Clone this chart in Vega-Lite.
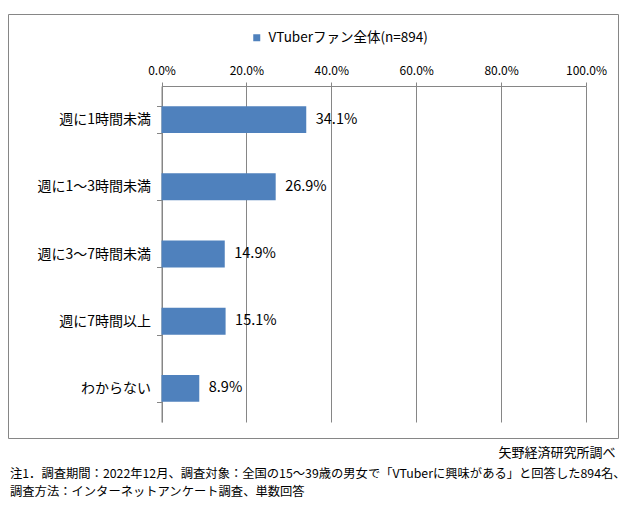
{
  "$schema": "https://vega.github.io/schema/vega-lite/v6.json",
  "width": 610,
  "height": 424,
  "padding": {"left": 8, "top": 7, "right": 4, "bottom": 5},
  "background": "white",
  "config": {
    "font": "Noto Sans CJK JP",
    "view": {"stroke": "#868686", "strokeWidth": 1}
  },
  "title": {
    "text": [
      "注1．調査期間：2022年12月、調査対象：全国の15～39歳の男女で「VTuberに興味がある」と回答した894名、",
      "調査方法：インターネットアンケート調査、単数回答"
    ],
    "orient": "bottom",
    "anchor": "start",
    "frame": "group",
    "dx": 2,
    "offset": 9,
    "fontSize": 12.3,
    "fontWeight": "normal",
    "color": "#000000",
    "lineHeight": 18
  },
  "data": {
    "values": [
      {"cat": "週に1時間未満", "value": 0.341, "series": "VTuberファン全体(n=894)"},
      {"cat": "週に1～3時間未満", "value": 0.269, "series": "VTuberファン全体(n=894)"},
      {"cat": "週に3～7時間未満", "value": 0.149, "series": "VTuberファン全体(n=894)"},
      {"cat": "週に7時間以上", "value": 0.151, "series": "VTuberファン全体(n=894)"},
      {"cat": "わからない", "value": 0.089, "series": "VTuberファン全体(n=894)"}
    ]
  },
  "encoding": {
    "y": {
      "field": "cat",
      "type": "nominal",
      "sort": null,
      "scale": {"range": [72, 408], "paddingInner": 0.6, "paddingOuter": 0.3},
      "axis": {
        "orient": "left",
        "offset": -153.5,
        "title": null,
        "grid": false,
        "tickBand": "extent",
        "domainColor": "#868686",
        "tickColor": "#868686",
        "tickSize": 5,
        "labelFontSize": 14,
        "labelColor": "#000000",
        "labelPadding": 6
      }
    }
  },
  "layer": [
    {
      "mark": {"type": "bar"},
      "encoding": {
        "x": {
          "field": "value",
          "type": "quantitative",
          "scale": {"domain": [0, 1], "range": [153.5, 578], "nice": false},
          "axis": {
            "orient": "top",
            "offset": -72,
            "title": null,
            "values": [0, 0.2, 0.4, 0.6, 0.8, 1],
            "format": ".1%",
            "grid": true,
            "gridColor": "#868686",
            "domainColor": "#868686",
            "tickColor": "#868686",
            "tickSize": 4,
            "labelFontSize": 12,
            "labelColor": "#000000",
            "labelPadding": 5,
            "labelFlush": false
          }
        },
        "color": {
          "field": "series",
          "type": "nominal",
          "scale": {"range": ["#4F81BD"]},
          "legend": {
            "orient": "none",
            "legendX": 242,
            "legendY": 17,
            "title": null,
            "padding": 0,
            "symbolType": "square",
            "symbolSize": 49,
            "symbolStrokeWidth": 0,
            "labelFontSize": 13.5,
            "labelColor": "#000000",
            "labelOffset": 5,
            "labelLimit": 300
          }
        }
      }
    },
    {
      "mark": {"type": "text", "align": "left", "baseline": "middle", "dx": 9.5, "fontSize": 14.5, "color": "#000000"},
      "encoding": {
        "x": {
          "field": "value",
          "type": "quantitative",
          "axis": {
            "orient": "bottom",
            "labels": false,
            "ticks": false,
            "domain": false,
            "grid": false,
            "title": "矢野経済研究所調べ",
            "titleX": 607,
            "titleY": 14,
            "titleAlign": "right",
            "titleBaseline": "middle",
            "titleFontSize": 13,
            "titleFontWeight": "normal",
            "titleColor": "#000000"
          }
        },
        "text": {"field": "value", "type": "quantitative", "format": ".1%"}
      }
    }
  ],
  "resolve": {"axis": {"x": "independent"}}
}
